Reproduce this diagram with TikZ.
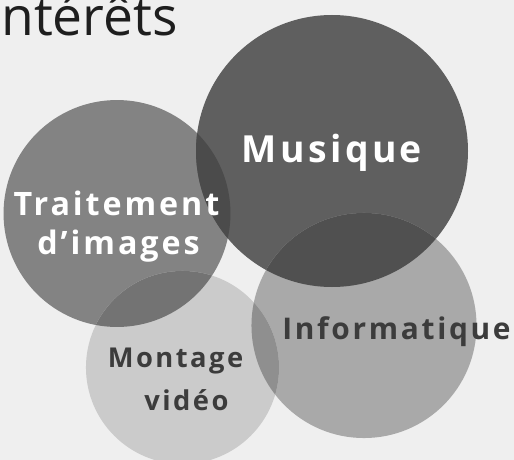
\documentclass[tikz,border=0pt]{standalone}
\usepackage{fontspec}
\setmainfont{Open Sans}
\newfontfamily\lblfont[LetterSpace=9]{Open Sans}
\definecolor{bgc}{HTML}{EFEFEF}
\definecolor{cT}{HTML}{838383}
\definecolor{cM}{HTML}{5F5F5F}
\definecolor{cI}{HTML}{A9A9A9}
\definecolor{cMo}{HTML}{CBCBCB}
\definecolor{cTM}{HTML}{4B4B4B}
\definecolor{cMI}{HTML}{505050}
\definecolor{cTMo}{HTML}{737373}
\definecolor{cMoI}{HTML}{8F8F8F}
\definecolor{darktxt}{HTML}{3C3C3C}
\definecolor{titletxt}{HTML}{1E1E1E}
\tikzset{
  bubble/.style={circle, inner sep=0pt, draw=none},
  lbl/.style={anchor=base, inner sep=0pt},
  lightlbl/.style={lbl, text=white},
  darklbl/.style={lbl, text=darktxt},
}
\begin{document}
\begin{tikzpicture}[x=0.75pt,y=-0.75pt]
\useasboundingbox (0,0) rectangle (514,460);
\fill[bgc] (0,0) rectangle (514,460);
% title
\node[anchor=base east, inner sep=0pt, text=titletxt, font=\fontsize{40pt}{46pt}\selectfont] (title) at (178,36) {Intérêts};
% circles
\node[bubble, fill=cT, minimum size=170.2pt] (T) at (117,213.5) {};
\node[bubble, fill=cM, minimum size=204pt] (M) at (332,151) {};
\node[bubble, fill=cI, minimum size=168.8pt] (I) at (364,325.5) {};
\node[bubble, fill=cMo, minimum size=144.8pt] (Mo) at (182.5,367.5) {};
% overlaps
\begin{scope}
  \clip (T.center) circle[radius=85.1pt];
  \fill[cTM] (M.center) circle[radius=102pt];
\end{scope}
\begin{scope}
  \clip (M.center) circle[radius=102pt];
  \fill[cMI] (I.center) circle[radius=84.4pt];
\end{scope}
\begin{scope}
  \clip (T.center) circle[radius=85.1pt];
  \fill[cTMo] (Mo.center) circle[radius=72.4pt];
\end{scope}
\begin{scope}
  \clip (I.center) circle[radius=84.4pt];
  \fill[cMoI] (Mo.center) circle[radius=72.4pt];
\end{scope}
% labels
\node[lightlbl, font=\lblfont\bfseries\fontsize{28pt}{34pt}\selectfont] (lM) at (332,162) {Musique};
\node[lightlbl, font=\lblfont\bfseries\fontsize{24.2pt}{30pt}\selectfont] (lT1) at (116.5,215) {Traitement};
\node[lightlbl, font=\lblfont\bfseries\fontsize{24.2pt}{30pt}\selectfont] (lT2) at (118.5,254) {d’images};
\node[darklbl, font=\lblfont\bfseries\fontsize{22.4pt}{30pt}\selectfont] (lI) at (396.5,339) {Informatique};
\node[darklbl, font=\lblfont\bfseries\fontsize{20.5pt}{32pt}\selectfont] (lMo1) at (175.5,367) {Montage};
\node[darklbl, font=\lblfont\bfseries\fontsize{20.5pt}{32pt}\selectfont] (lMo2) at (186.5,410) {vidéo};
\end{tikzpicture}
\end{document}
